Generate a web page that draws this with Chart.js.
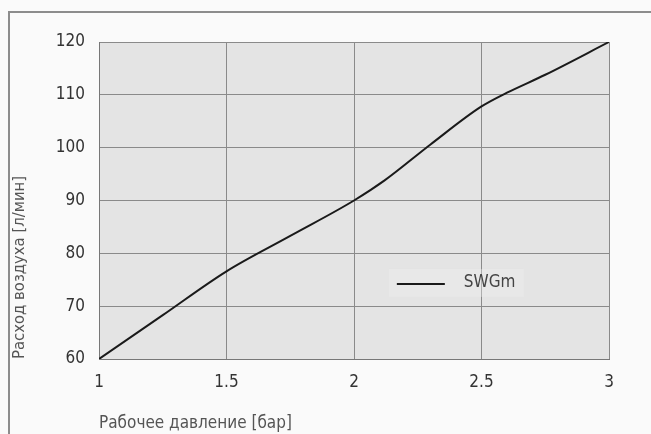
<!DOCTYPE html>
<html><head><meta charset="utf-8">
<script src="https://cdn.jsdelivr.net/npm/chart.js@4"></script>
<style>html,body{margin:0;padding:0;background:#fafafa;}#w{width:651px;height:434px;position:relative;}</style>
</head><body><div id="w"><canvas id="c" width="651" height="434"></canvas></div>
<script>
const pressure = [1.0, 1.25, 1.5, 1.75, 2.0, 2.12, 2.3, 2.5, 2.6, 2.75, 3.0];
const airFlow  = [60, 68.3, 76.6, 83.3, 90, 93.8, 100.6, 107.8, 110.4, 113.8, 120];
const seriesName = 'SWGm';
const xTicks = [1, 1.5, 2, 2.5, 3];
const yTicks = [60, 70, 80, 90, 100, 110, 120];
const xTitle = 'Рабочее давление [бар]';
const yTitle = 'Расход воздуха [л/мин]';

const FONT = "'Liberation Sans Narrow','DejaVu Sans Condensed','Roboto Condensed',sans-serif";

const frame = {
  id: 'frame',
  beforeDraw(chart) {
    const ctx = chart.ctx, a = chart.chartArea;
    ctx.save();
    ctx.strokeStyle = '#8c8c8c'; ctx.lineWidth = 2;
    ctx.beginPath(); ctx.moveTo(9, 434); ctx.lineTo(9, 12); ctx.lineTo(651, 12); ctx.stroke();
    ctx.fillStyle = '#e4e4e4';
    ctx.fillRect(a.left, a.top, a.right - a.left, a.bottom - a.top);
    ctx.restore();
  },
  afterDatasetsDraw(chart) {
    const ctx = chart.ctx, a = chart.chartArea;
    const x0 = a.left + (a.right - a.left) * 0.584;
    const y0 = a.top + (a.bottom - a.top) * 0.76;
    ctx.save();
    ctx.fillStyle = 'rgba(240,240,240,0.35)';
    ctx.fillRect(x0 - 8, y0 - 14, 135, 28);
    ctx.strokeStyle = '#1a1a1a'; ctx.lineWidth = 2;
    ctx.beginPath(); ctx.moveTo(x0, y0 + 1); ctx.lineTo(x0 + 48, y0 + 1); ctx.stroke();
    ctx.fillStyle = '#444'; ctx.font = '17px ' + FONT; ctx.textBaseline = 'middle';
    ctx.fillText(seriesName, x0 + 67, y0);
    ctx.restore();
  }
};

new Chart(document.getElementById('c'), {
  type: 'line',
  data: { datasets: [{ label: seriesName, data: pressure.map((p, i) => ({x: p, y: airFlow[i]})),
    borderColor: '#1a1a1a', borderWidth: 2, pointRadius: 0, cubicInterpolationMode: 'monotone', fill: false }] },
  options: {
    responsive: false, animation: false,
    layout: { padding: { top: 42, right: 42, left: 0, bottom: 0 } },
    plugins: { legend: { display: false }, tooltip: { enabled: false } },
    scales: {
      x: { type: 'linear', min: 1, max: 3,
        afterBuildTicks: s => { s.ticks = xTicks.map(v => ({value: v})); },
        afterFit: s => { s.height = 75; },
        grid: { color: '#8a8a8a', lineWidth: 1, drawTicks: false },
        border: { color: '#777', width: 1 },
        ticks: { color: '#333', font: { family: FONT, size: 17 }, padding: 13, callback: v => String(v) },
        title: { display: true, text: xTitle, align: 'start', color: '#555', font: { family: FONT, size: 17 }, padding: { top: 4, bottom: 0 } }
      },
      y: { min: 60, max: 120,
        afterBuildTicks: s => { s.ticks = yTicks.map(v => ({value: v})); },
        afterFit: s => { s.width = 99; },
        grid: { color: '#8a8a8a', lineWidth: 1, drawTicks: false },
        border: { color: '#777', width: 1 },
        ticks: { color: '#333', font: { family: FONT, size: 17 }, padding: 14 },
        title: { display: true, text: yTitle, align: 'start', color: '#555', font: { family: FONT, size: 16.5 }, padding: { top: 10, bottom: 0 } }
      }
    }
  },
  plugins: [frame]
});
</script></body></html>
